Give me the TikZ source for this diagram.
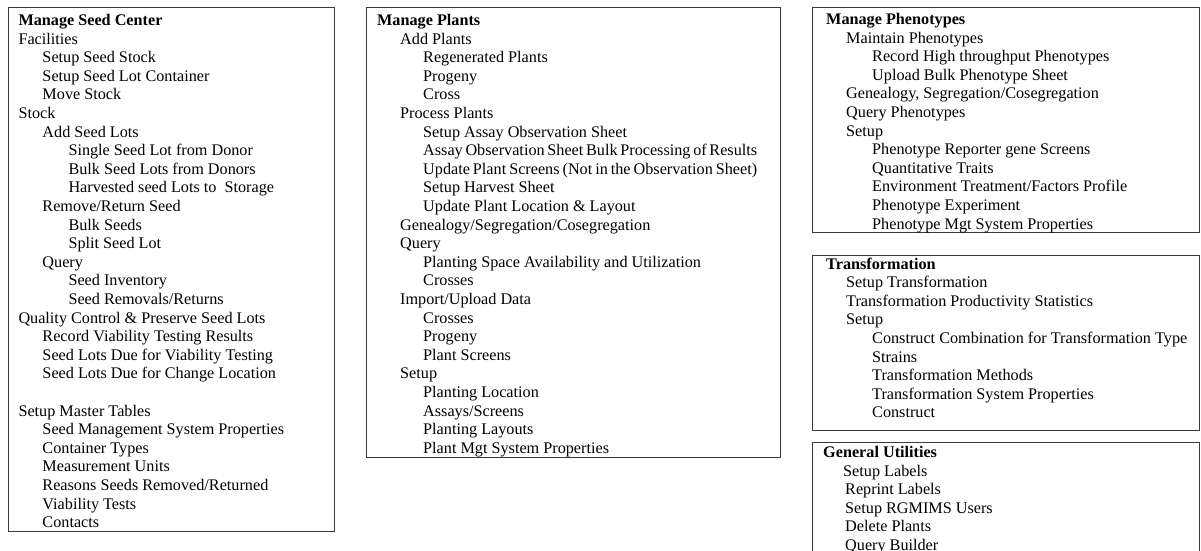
\documentclass[tikz,border=0pt]{standalone}
\usepackage{fontspec}
\setmainfont{Liberation Serif}
\usetikzlibrary{calc}
\definecolor{framegray}{HTML}{3A3A3A}

\newlength\inda
\newlength\indb
\newcommand\ia{\hspace*{\inda}}
\newcommand\ib{\hspace*{\indb}}
\newcommand\menulist[3]{\parbox[t]{380pt}{\setlength\inda{#1}\setlength\indb{#2}%
  \fontsize{16.2}{18.6}\selectfont #3}}

\tikzset{
  panel/.style={draw=framegray, line width=1.1pt, anchor=north west, inner sep=0pt},
  menu/.style={anchor=base west, inner sep=0pt}
}

\begin{document}
\begin{tikzpicture}[x=1pt, y=-1pt]
  \useasboundingbox (0,0) rectangle (1201,550);

  % Frames
  \node[panel, minimum width=326pt, minimum height=524pt] (seed) at (8,7) {};
  \node[panel, minimum width=414pt, minimum height=450pt] (plants) at (366,7) {};
  \node[panel, minimum width=387pt, minimum height=225pt] (pheno) at (812,7) {};
  \node[panel, minimum width=387pt, minimum height=175pt] (transf) at (812,255) {};
  \node[panel, minimum width=387pt, minimum height=130pt] (util) at (812,442) {};

  % Seed center menu
  \node[menu] (seedmenu) at ($(seed.north west)+(10.3,18.5)$) {\menulist{24pt}{50pt}{%
    \textbf{Manage Seed Center}\\
    Facilities\\
    \ia Setup Seed Stock\\
    \ia Setup Seed Lot Container\\
    \ia Move Stock\\
    Stock\\
    \ia Add Seed Lots\\
    \ib Single Seed Lot from Donor\\
    \ib Bulk Seed Lots from Donors\\
    \ib Harvested seed Lots to\ \ Storage\\
    \ia Remove/Return Seed\\
    \ib Bulk Seeds\\
    \ib Split Seed Lot\\
    \ia Query\\
    \ib Seed Inventory\\
    \ib Seed Removals/Returns\\
    Quality Control \& Preserve Seed Lots\\
    \ia Record Viability Testing Results\\
    \ia Seed Lots Due for Viability Testing\\
    \ia Seed Lots Due for Change Location\\
    ~\\
    Setup Master Tables\\
    \ia Seed Management System Properties\\
    \ia Container Types\\
    \ia Measurement Units\\
    \ia Reasons Seeds Removed/Returned\\
    \ia Viability Tests\\
    \ia Contacts}};

  % Plants menu
  \node[menu] (plantmenu) at ($(plants.north west)+(11,18.5)$) {\menulist{23pt}{46pt}{%
    \textbf{Manage Plants}\\
    \ia Add Plants\\
    \ib Regenerated Plants\\
    \ib Progeny\\
    \ib Cross\\
    \ia Process Plants\\
    \ib Setup Assay Observation Sheet\\
    \ib Assay Observation Sheet Bulk Processing of Results\\
    \ib Update Plant Screens (Not in the Observation Sheet)\\
    \ib Setup Harvest Sheet\\
    \ib Update Plant Location \& Layout\\
    \ia Genealogy/Segregation/Cosegregation\\
    \ia Query\\
    \ib Planting Space Availability and Utilization\\
    \ib Crosses\\
    \ia Import/Upload Data\\
    \ib Crosses\\
    \ib Progeny\\
    \ib Plant Screens\\
    \ia Setup\\
    \ib Planting Location\\
    \ib Assays/Screens\\
    \ib Planting Layouts\\
    \ib Plant Mgt System Properties}};

  % Phenotypes menu
  \node[menu] (phenomenu) at ($(pheno.north west)+(14,17.5)$) {\menulist{20pt}{46pt}{%
    \textbf{Manage Phenotypes}\\
    \ia Maintain Phenotypes\\
    \ib Record High throughput Phenotypes\\
    \ib Upload Bulk Phenotype Sheet\\
    \ia Genealogy, Segregation/Cosegregation\\
    \ia Query Phenotypes\\
    \ia Setup\\
    \ib Phenotype Reporter gene Screens\\
    \ib Quantitative Traits\\
    \ib Environment Treatment/Factors Profile\\
    \ib Phenotype Experiment\\
    \ib Phenotype Mgt System Properties}};

  % Transformation menu
  \node[menu] (transfmenu) at ($(transf.north west)+(14,14)$) {\menulist{20pt}{46pt}{%
    \textbf{Transformation}\\
    \ia Setup Transformation\\
    \ia Transformation Productivity Statistics\\
    \ia Setup\\
    \ib Construct Combination for Transformation Type\\
    \ib Strains\\
    \ib Transformation Methods\\
    \ib Transformation System Properties\\
    \ib Construct}};

  % Utilities menu
  \node[menu] (utilmenu) at ($(util.north west)+(11,15.5)$) {\menulist{22pt}{20pt}{%
    \textbf{General Utilities}\\
    \ib Setup Labels\\
    \ia Reprint Labels\\
    \ia Setup RGMIMS Users\\
    \ia Delete Plants\\
    \ia Query Builder}};
\end{tikzpicture}
\end{document}
